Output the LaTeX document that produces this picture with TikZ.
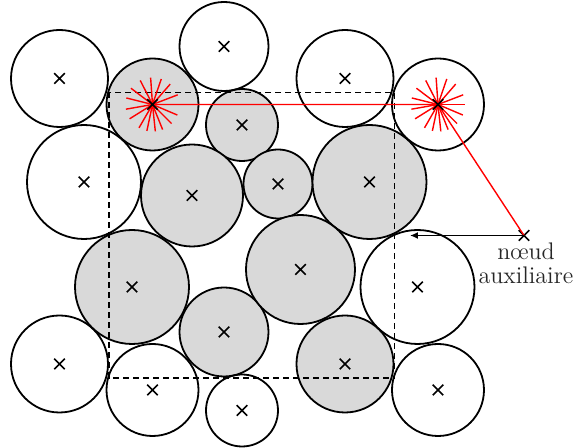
\documentclass[tikz,border=0pt]{standalone}
\usepackage{fontspec}
\usetikzlibrary{positioning,shapes.misc,arrows.meta}

\begin{document}
\begin{tikzpicture}[
  x=0.5pt, y=-0.5pt,
  grain/.style={circle, draw=black, line width=0.9pt, fill=black!15, inner sep=0pt},
  ghost/.style={circle, draw=black, line width=0.9pt, inner sep=0pt},
  ctr/.style={cross out, draw=black, line width=0.75pt, minimum size=4.5pt, inner sep=0pt},
  cell/.style={draw=black, dash pattern=on 3pt off 2pt, line width=0.85pt},
  ray/.style={draw=red, line width=0.7pt},
  link/.style={draw=red, line width=0.7pt},
  toaux/.style={-{Latex[length=4pt,width=3.5pt]}, line width=0.75pt},
  auxlabel/.style={align=center, font=\large, inner sep=1pt, text=black!85},
]
\useasboundingbox (0,0) rectangle (575,448);

% grains inside the cell (minimum size in pt = radius in units)
\foreach \n/\x/\y/\r in {b/152.5/104.5/46, d/242/125/36, f/192/195.5/51,
    g/278/184/34.5, j/369.5/182/57, k/132/287/57, l/224/332/44.5,
    p/300.5/269.5/54.5, r/345/364/48.5}
  \node[grain, minimum size=\r pt] (\n) at (\x,\y) {};

% periodic images
\foreach \n/\x/\y/\r in {a/59.5/78.5/48.5, h/345/78.5/48.5, m/59.5/364/48.5,
    c/224/46.5/44.5, i/438/104.5/46, n/152.5/390/46, s/438/390/46,
    o/242/410.5/36, e/84/182/57, q/417.5/287/57}
  \node[ghost, minimum size=\r pt] (\n) at (\x,\y) {};

% cell
\draw[cell] (109,92.5) rectangle ++(285.5,285.5);

% auxiliary node
\node[ctr] (aux) at (524,235.5) {};
\node[auxlabel, below=0pt of aux, xshift=1pt] (auxtxt) {nœud\\[-2pt]auxiliaire};
\coordinate (cellside) at (410,235.5);

% neighbour search
\foreach \c in {b,i}
  \foreach \a in {0,-21,-49,-71,-94,-117,-143,-166,170,148,120,102,84,68,45,23}
    \draw[ray] (\c.center) -- ++(\a:27);
\draw[link] (b.center) -- (i.center) -- (aux.center);
\draw[toaux] (aux.center) -- (cellside);

% centres
\foreach \n in {a,b,c,d,e,f,g,h,i,j,k,l,m,n,o,p,q,r,s}
  \node[ctr] at (\n) {};

\end{tikzpicture}
\end{document}
